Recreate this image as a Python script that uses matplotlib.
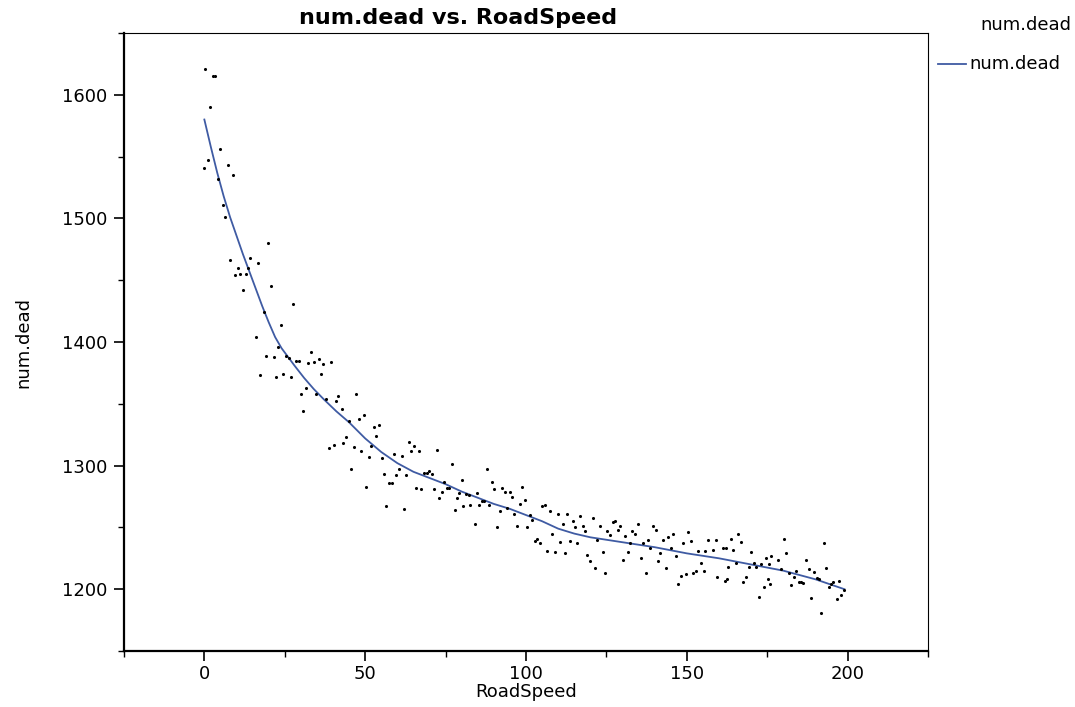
import numpy as np
import matplotlib
matplotlib.use("Agg")
import matplotlib.pyplot as plt
from matplotlib.lines import Line2D
from matplotlib.ticker import MultipleLocator

plt.rcParams['font.family'] = ['DejaVu Sans']

# scatter values
road_speed = [
    0.0, 0.3, 1.0, 1.8, 2.6, 3.4, 4.1, 5.0, 5.7, 6.5, 7.3, 8.1, 8.9, 9.6, 10.5, 11.2, 12.0, 12.8, 13.6, 14.3, 16.7,
    19.8, 20.6, 27.7, 18.4, 23.7, 16.0, 22.9, 19.2, 21.5, 25.3, 26.2, 28.5, 29.3, 33.2, 32.3, 34.0, 35.5, 36.9,
    17.4, 22.2, 24.6, 26.8, 36.3, 30.0, 31.5, 34.6, 30.8,
    39.4, 37.8, 41.7, 41.0, 47.2, 42.7, 44.9, 48.0, 49.6, 52.7, 54.2, 53.5, 44.1, 43.2, 40.2, 38.6, 46.4, 48.8,
    51.9, 51.1, 55.1, 45.6, 55.8, 50.3,
    59.0, 61.3, 63.7, 65.2, 64.4, 66.8, 72.3, 60.4, 59.6, 62.8, 57.3, 58.3, 68.4, 69.1, 69.9, 70.7, 74.4, 65.9,
    67.5, 71.4, 73.9, 73.0, 56.6, 62.1,
    76.9, 87.9, 80.0, 89.4, 75.4, 76.0, 79.2, 81.5, 82.4, 84.7, 90.2, 92.5, 78.4, 86.2, 87.0, 80.3, 82.7, 85.4,
    88.6, 77.8, 91.8, 84.0, 91.1,
    93.5, 94.9, 95.8, 98.8, 99.6, 98.1, 105.0, 105.9, 94.2, 96.4, 107.4, 109.8, 101.2, 101.9, 111.4, 97.3, 100.4,
    108.2, 103.5, 102.7, 104.3, 110.5, 106.6, 109.0,
    112.9, 116.9, 120.8, 114.5, 115.3, 117.6, 118.4, 123.1, 127.0, 127.7, 129.3, 128.6, 125.3, 126.2, 122.2,
    113.6, 116.0, 112.2, 119.1, 123.8, 120.0, 130.1, 121.5, 124.6,
    134.7, 133.1, 134.0, 130.9, 139.4, 140.3, 132.4, 136.4, 138.0, 142.7, 144.2, 145.8, 148.9, 138.7, 145.0,
    131.6, 141.8, 146.5, 135.6, 141.0, 143.4, 137.2, 148.1, 147.2,
    150.4, 151.3, 156.7, 159.1, 163.6, 166.0, 166.8, 153.4, 155.8, 158.2, 161.3, 162.1, 164.4, 154.3, 165.2,
    162.9, 152.8, 155.2, 152.0, 149.7, 159.4, 162.6, 161.9, 167.5,
    170.0, 180.2, 180.9, 174.7, 176.1, 178.5, 169.3, 170.8, 171.6, 173.1, 175.4, 179.4, 181.7, 184.0, 183.2,
    168.4, 175.2, 176.0, 182.3, 184.8, 185.4, 186.1, 173.9, 172.3,
    192.6, 187.2, 193.3, 188.0, 189.6, 190.4, 191.0, 195.6, 197.4, 194.1, 194.7, 198.9, 198.0, 196.6, 188.5, 191.7,
]
num_dead = [
    1541, 1621, 1547, 1590, 1615, 1615, 1532, 1556, 1511, 1501, 1543, 1466, 1535, 1454, 1460, 1455, 1442, 1455, 1460, 1468, 1464,
    1480, 1445, 1431, 1424, 1414, 1404, 1396, 1389, 1388, 1389, 1387, 1385, 1385, 1392, 1383, 1384, 1386, 1382,
    1373, 1372, 1374, 1372, 1374, 1358, 1363, 1358, 1344,
    1384, 1354, 1356, 1352, 1358, 1346, 1336, 1338, 1341, 1331, 1333, 1324, 1323, 1318, 1317, 1314, 1315, 1312,
    1316, 1307, 1306, 1297, 1293, 1283,
    1309, 1308, 1319, 1316, 1312, 1312, 1313, 1297, 1292, 1292, 1286, 1286, 1294, 1294, 1296, 1293, 1287, 1282,
    1281, 1281, 1279, 1274, 1267, 1265,
    1301, 1297, 1288, 1287, 1282, 1282, 1278, 1277, 1276, 1278, 1281, 1282, 1274, 1271, 1271, 1267, 1268, 1268,
    1268, 1264, 1263, 1253, 1250,
    1279, 1279, 1275, 1283, 1272, 1269, 1267, 1268, 1266, 1261, 1263, 1261, 1260, 1256, 1253, 1251, 1250,
    1245, 1241, 1239, 1237, 1238, 1231, 1230,
    1261, 1259, 1258, 1255, 1250, 1251, 1247, 1251, 1254, 1255, 1251, 1248, 1247, 1244, 1240,
    1239, 1237, 1229, 1228, 1230, 1223, 1224, 1217, 1213,
    1253, 1247, 1245, 1243, 1251, 1248, 1237, 1237, 1240, 1240, 1242, 1245, 1237, 1233, 1233,
    1230, 1229, 1227, 1225, 1223, 1217, 1213, 1211, 1204,
    1246, 1239, 1240, 1240, 1241, 1245, 1238, 1231, 1231, 1232, 1233, 1233, 1232, 1221, 1221,
    1218, 1215, 1215, 1213, 1212, 1210, 1208, 1207, 1206,
    1230, 1241, 1229, 1225, 1227, 1224, 1218, 1221, 1218, 1220, 1220, 1216, 1213, 1215, 1210,
    1210, 1208, 1204, 1203, 1206, 1206, 1205, 1202, 1194,
    1237, 1224, 1217, 1216, 1214, 1209, 1208, 1206, 1207, 1202, 1204, 1199, 1195, 1192, 1193, 1181,
]

# smoother curve
fit_x = [0, 2, 4, 6, 8, 10, 12, 14, 16, 18, 20, 22, 24, 26, 28, 31, 34, 37, 41, 45, 50, 55, 60, 65,
         70, 75, 80, 85, 90, 95, 100, 105, 110, 115, 120, 125, 130, 140, 150, 160, 170, 180, 190, 199]
fit_y = [1580, 1558, 1537, 1518, 1501, 1486, 1471, 1457, 1443, 1429, 1416, 1404, 1395, 1388, 1381,
         1371, 1362, 1354, 1344, 1335, 1322, 1311, 1302, 1295, 1290, 1285, 1279, 1274, 1269, 1265,
         1260, 1255, 1249, 1245, 1242, 1240, 1238, 1234, 1229, 1225, 1220, 1215, 1208, 1200]

line_col = '#3F5BA3'

fig = plt.figure(figsize=(10.75, 7.07), dpi=100)
ax = fig.add_axes([0.1153, 0.0792, 0.748, 0.8741])

ax.scatter(road_speed, num_dead, s=5, color='black', linewidths=0, zorder=3)
ax.plot(fit_x, fit_y, color=line_col, lw=1.3, zorder=2)

ax.set_xlim(-25, 225)
ax.set_ylim(1150, 1650)
ax.xaxis.set_major_locator(MultipleLocator(50))
ax.xaxis.set_minor_locator(MultipleLocator(25))
ax.yaxis.set_major_locator(MultipleLocator(100))
ax.yaxis.set_minor_locator(MultipleLocator(50))
ax.tick_params(which='major', direction='out', length=7, width=1.2, labelsize=13, pad=5)
ax.tick_params(axis='x', which='major', pad=3)
ax.tick_params(which='minor', direction='out', length=4, width=1.0)

for side in ['left', 'bottom']:
    ax.spines[side].set_linewidth(1.6)
for side in ['top', 'right']:
    ax.spines[side].set_linewidth(0.8)

ax.set_xlabel('RoadSpeed', fontsize=13, labelpad=0)
ax.set_ylabel('num.dead', fontsize=13, labelpad=21)

fig.text(458 / 1075, 1 - 18 / 707, 'num.dead vs. RoadSpeed', fontsize=16,
         fontweight='bold', ha='center', va='center')

# legend drawn outside at the right
fig.text(980 / 1075, 1 - 25 / 707, 'num.dead', fontsize=13, ha='left', va='center')
fig.add_artist(Line2D([938 / 1075, 966 / 1075], [1 - 64 / 707, 1 - 64 / 707],
                      color=line_col, lw=1.3, transform=fig.transFigure))
fig.text(969 / 1075, 1 - 64 / 707, 'num.dead', fontsize=13, ha='left', va='center')

fig.savefig('out.png', dpi=100)
